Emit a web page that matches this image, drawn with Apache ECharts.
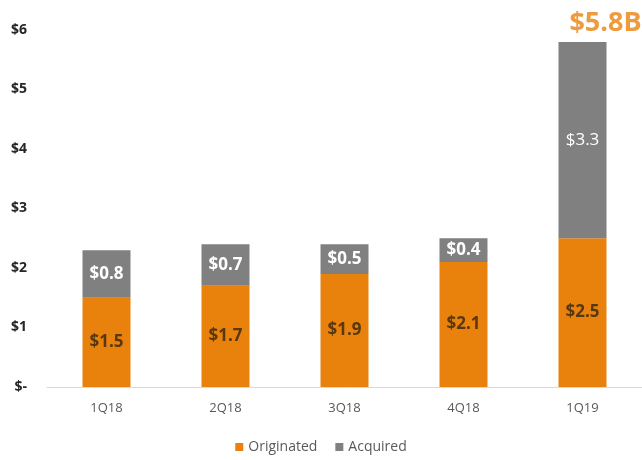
<!DOCTYPE html>
<html>
<head>
<meta charset="utf-8">
<script src="https://cdn.jsdelivr.net/npm/echarts@6/dist/echarts.min.js"></script>
<style>
  html, body { margin: 0; padding: 0; background: #fff; }
  #chart { width: 642px; height: 460px; }
</style>
</head>
<body>
<div id="chart"></div>
<script>
// Quarterly volume, $ billions
const quarters = ['1Q18', '2Q18', '3Q18', '4Q18', '1Q19'];
const originated = [1.5, 1.7, 1.9, 2.1, 2.5];
const acquired = [0.8, 0.7, 0.5, 0.4, 3.3];
const yTicks = ['$-', '$1', '$2', '$3', '$4', '$5', '$6'];
const highlightIndex = 4;
const highlightText = '$5.8B';

const FONT = '"Open Sans", "Liberation Sans", sans-serif';
const ORANGE = '#E8820C';
const GREY = '#808080';

const totals = originated.map((v, i) => +(v + acquired[i]).toFixed(1));
const totalSeries = totals.map((t, i) => (i === highlightIndex ? t : null));

const chart = echarts.init(document.getElementById('chart'));
chart.setOption({
  animation: false,
  textStyle: { fontFamily: FONT },
  grid: { left: 47, right: 0, top: 30, bottom: 73 },
  xAxis: {
    type: 'category',
    data: quarters,
    axisLine: { lineStyle: { color: '#d9d9d9', width: 1 } },
    axisTick: { show: false },
    axisLabel: { color: '#595959', fontSize: 13, margin: 15, fontFamily: FONT }
  },
  yAxis: {
    type: 'value',
    min: 0, max: 6, interval: 1,
    splitLine: { show: false },
    axisLine: { show: false },
    axisTick: { show: false },
    axisLabel: {
      color: '#262626', fontSize: 14, fontWeight: 'bold', margin: 20, fontFamily: FONT,
      formatter: v => yTicks[Math.round(v)]
    }
  },
  legend: {
    bottom: 1,
    left: 'center',
    itemWidth: 8, itemHeight: 8, itemGap: 18,
    icon: 'rect',
    textStyle: { color: '#595959', fontSize: 14, fontFamily: FONT },
    data: ['Originated', 'Acquired']
  },
  series: [
    {
      name: 'Originated',
      type: 'bar',
      stack: 'vol',
      barWidth: 48,
      itemStyle: { color: ORANGE },
      label: {
        show: true, position: 'inside',
        color: '#59380f', fontSize: 17, fontWeight: 'bold', fontFamily: FONT,
        formatter: p => '$' + p.value.toFixed(1)
      },
      data: originated
    },
    {
      name: 'Acquired',
      type: 'bar',
      stack: 'vol',
      barWidth: 48,
      itemStyle: { color: GREY },
      label: {
        show: true, position: 'inside',
        color: '#ffffff', fontSize: 17, fontWeight: 'bold', fontFamily: FONT,
        formatter: p => '$' + p.value.toFixed(1)
      },
      data: acquired.map((v, i) => i === highlightIndex
        ? { value: v, label: { fontWeight: 'normal' } }
        : v)
    },
    {
      name: 'Total',
      type: 'scatter',
      symbolSize: 0,
      silent: true,
      label: {
        show: true, position: 'top', distance: 5, offset: [23, 0],
        color: ORANGE, fontSize: 27, fontWeight: 'bold', fontFamily: FONT,
        formatter: () => highlightText
      },
      data: totalSeries
    }
  ]
});
</script>
</body>
</html>
